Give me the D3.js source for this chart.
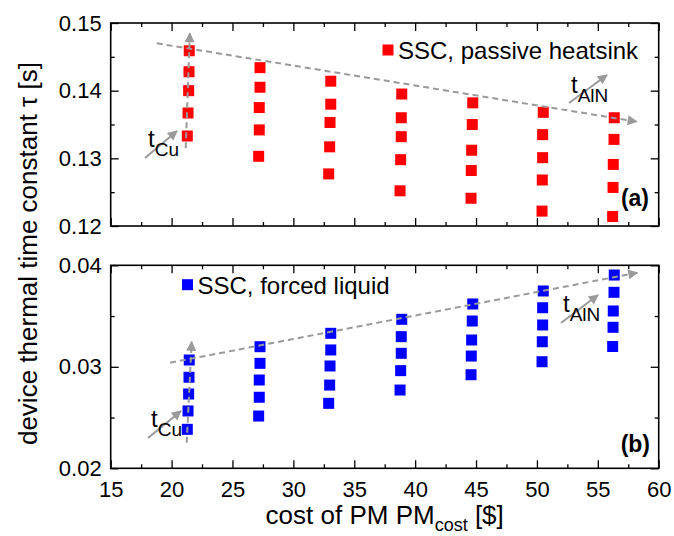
<!DOCTYPE html>
<html>
<head>
<meta charset="utf-8">
<script src="https://cdn.jsdelivr.net/npm/d3@7"></script>
<style>
  body { margin: 0; background: #fff; }
  svg { font-family: "Liberation Sans", Arial, sans-serif; }
</style>
</head>
<body>
<div id="chart"></div>
<script>
// cost of the power module for each t_Cu step (5 per AlN thickness column)
var costCols = [
    [21.45, 21.43, 21.40, 21.35, 21.29],
    [27.26, 27.26, 27.20, 27.20, 27.15],
    [33.07, 33.07, 33.01, 32.98, 32.90],
    [38.90, 38.86, 38.86, 38.81, 38.76],
    [44.73, 44.69, 44.64, 44.61, 44.59],
    [50.52, 50.47, 50.47, 50.44, 50.42],
    [56.35, 56.33, 56.27, 56.25, 56.22]
]
var tauPassive = [
    [0.1459, 0.1428, 0.1400, 0.1367, 0.1333],
    [0.1434, 0.1405, 0.1375, 0.1342, 0.1303],
    [0.1414, 0.1380, 0.1353, 0.1317, 0.1277],
    [0.1395, 0.1360, 0.1332, 0.1298, 0.1252],
    [0.1382, 0.1350, 0.1312, 0.1282, 0.1241],
    [0.1368, 0.1335, 0.1301, 0.1268, 0.1222],
    [0.1360, 0.1328, 0.1291, 0.1257, 0.1214]
]
var tauLiquid = [
    [0.03067, 0.02897, 0.02732, 0.02565, 0.02384],
    [0.03198, 0.03034, 0.02870, 0.02700, 0.02515],
    [0.03330, 0.03166, 0.03008, 0.02820, 0.02640],
    [0.03468, 0.03297, 0.03133, 0.02962, 0.02771],
    [0.03619, 0.03451, 0.03264, 0.03106, 0.02922],
    [0.03747, 0.03582, 0.03412, 0.03247, 0.03050],
    [0.03904, 0.03734, 0.03550, 0.03389, 0.03200]
]
var xTicks = [15, 20, 25, 30, 35, 40, 45, 50, 55, 60]
var yTicksTop = [0.12, 0.13, 0.14, 0.15]
var yTicksBottom = [0.02, 0.03, 0.04]

// annotation guides in data units
var trendTop = [[18.78, 0.1470], [58.19, 0.13542]]
var cuArrowTop = [[21.16, 0.1315], [21.5, 0.1485]]
var trendBottom = [[19.87, 0.03040], [58.24, 0.03927]]
var cuArrowBottom = [[21.24, 0.02252], [21.65, 0.03247]]

var width = 674, height = 536
var left = 110.7, right = 658.7
var topPanel = { y0: 23, y1: 226 }
var botPanel = { y0: 265.3, y1: 468.3 }

var svg = d3.select('#chart').append('svg')
    .attr('width', width)
    .attr('height', height)

var defs = svg.append('defs')
defs.append('marker')
    .attr('id', 'head')
    .attr('viewBox', '0 0 10 10')
    .attr('refX', 9).attr('refY', 5)
    .attr('markerWidth', 12).attr('markerHeight', 10)
    .attr('markerUnits', 'userSpaceOnUse')
    .attr('orient', 'auto')
    .append('path')
    .attr('d', 'M0,0L10,5L0,10Z')
    .attr('fill', '#9a9a9a')

var x = d3.scaleLinear().domain([15, 60]).range([left, right])
var yTop = d3.scaleLinear().domain([0.12, 0.15]).range([topPanel.y1, topPanel.y0])
var yBot = d3.scaleLinear().domain([0.02, 0.04]).range([botPanel.y1, botPanel.y0])

function halfSteps(ticks) {
    var out = []
    for (var i = 0; i < ticks.length - 1; i++) out.push((ticks[i] + ticks[i + 1]) / 2)
    return out
}

function drawPanel(y, panel, yTicks, fmt, showX) {
    var g = svg.append('g')
    var ticksStyle = function (sel) {
        sel.select('.domain').remove()
        sel.selectAll('line').attr('stroke', '#000').attr('stroke-width', 1.3)
        sel.selectAll('text').attr('fill', '#000').style('font-size', '22px')
            .style('font-family', '"Liberation Sans", Arial, sans-serif')
    }
    // left
    g.append('g').attr('transform', `translate(${left},0)`)
        .call(d3.axisLeft(y).tickValues(yTicks).tickFormat(fmt).tickSize(-8).tickPadding(9))
        .call(ticksStyle)
    g.append('g').attr('transform', `translate(${left},0)`)
        .call(d3.axisLeft(y).tickValues(halfSteps(yTicks)).tickFormat('').tickSize(-4))
        .call(ticksStyle)
    // right
    g.append('g').attr('transform', `translate(${right},0)`)
        .call(d3.axisRight(y).tickValues(yTicks).tickFormat('').tickSize(-8))
        .call(ticksStyle)
    g.append('g').attr('transform', `translate(${right},0)`)
        .call(d3.axisRight(y).tickValues(halfSteps(yTicks)).tickFormat('').tickSize(-4))
        .call(ticksStyle)
    // bottom
    g.append('g').attr('transform', `translate(0,${panel.y1})`)
        .call(d3.axisBottom(x).tickValues(xTicks).tickFormat(showX ? d3.format('d') : '').tickSize(-8).tickPadding(13))
        .call(ticksStyle)
    g.append('g').attr('transform', `translate(0,${panel.y1})`)
        .call(d3.axisBottom(x).tickValues(halfSteps(xTicks)).tickFormat('').tickSize(-4))
        .call(ticksStyle)
    // top
    g.append('g').attr('transform', `translate(0,${panel.y0})`)
        .call(d3.axisTop(x).tickValues(xTicks).tickFormat('').tickSize(-8))
        .call(ticksStyle)
    g.append('g').attr('transform', `translate(0,${panel.y0})`)
        .call(d3.axisTop(x).tickValues(halfSteps(xTicks)).tickFormat('').tickSize(-4))
        .call(ticksStyle)

    g.append('rect')
        .attr('x', left).attr('y', panel.y0)
        .attr('width', right - left).attr('height', panel.y1 - panel.y0)
        .attr('fill', 'none').attr('stroke', '#000').attr('stroke-width', 1.6)
}

drawPanel(yTop, topPanel, yTicksTop, d3.format('.2f'), false)
drawPanel(yBot, botPanel, yTicksBottom, d3.format('.2f'), true)

function guide(pts, y, dashed) {
    svg.append('line')
        .attr('x1', x(pts[0][0])).attr('y1', y(pts[0][1]))
        .attr('x2', x(pts[1][0])).attr('y2', y(pts[1][1]))
        .attr('stroke', '#9a9a9a').attr('stroke-width', 2)
        .attr('stroke-dasharray', dashed ? '6,4' : null)
        .attr('marker-end', 'url(#head)')
}

function squares(tau, y, color) {
    var pts = []
    tau.forEach(function (col, i) {
        col.forEach(function (v, j) { pts.push({ c: costCols[i][j], t: v }) })
    })
    var s = 11
    svg.append('g').selectAll('rect')
        .data(pts)
        .enter().append('rect')
        .attr('x', d => x(d.c) - s / 2)
        .attr('y', d => y(d.t) - s / 2)
        .attr('width', s).attr('height', s)
        .attr('fill', color)
}

squares(tauPassive, yTop, '#ff0000')
squares(tauLiquid, yBot, '#0000ff')

guide(trendTop, yTop, true)
guide(cuArrowTop, yTop, true)
guide(trendBottom, yBot, true)
guide(cuArrowBottom, yBot, true)

// labelled thickness arrows (screen-space annotations)
function thickLabel(tx, ty, sub, ax0, ay0, ax1, ay1) {
    svg.append('line')
        .attr('x1', ax0).attr('y1', ay0).attr('x2', ax1).attr('y2', ay1)
        .attr('stroke', '#9a9a9a').attr('stroke-width', 2)
        .attr('marker-end', 'url(#head)')
    var t = svg.append('text').attr('x', tx).attr('y', ty)
        .style('font-size', '24px').attr('fill', '#000')
    t.append('tspan').text('t')
    t.append('tspan').attr('dy', 9).style('font-size', '19px').text(sub)
}
thickLabel(148, 147, 'Cu', 145, 158, 177, 131)
thickLabel(571, 93, 'AlN', 569, 103, 607, 75)
thickLabel(151, 427, 'Cu', 148, 438, 181, 411)
thickLabel(563, 312, 'AlN', 561, 323, 598, 295)

// legends
function legend(cx, cy, color, label) {
    svg.append('rect').attr('x', cx - 5.5).attr('y', cy - 5.5)
        .attr('width', 11).attr('height', 11).attr('fill', color)
    svg.append('text').attr('x', cx + 10).attr('y', cy + 9)
        .style('font-size', '24px').attr('fill', '#000').text(label)
}
legend(388, 50, '#ff0000', 'SSC, passive heatsink')
legend(187.5, 284.7, '#0000ff', 'SSC, forced liquid')

svg.append('text').attr('x', 649).attr('y', 206).attr('text-anchor', 'end')
    .style('font-size', '23px').style('font-weight', 'bold').text('(a)')
svg.append('text').attr('x', 650).attr('y', 452).attr('text-anchor', 'end')
    .style('font-size', '23px').style('font-weight', 'bold').text('(b)')

// axis titles
svg.append('text')
    .attr('transform', 'translate(37,253.5) rotate(-90)')
    .attr('text-anchor', 'middle')
    .style('font-size', '26px')
    .text('device thermal time constant \u03c4 [s]')

var xl = svg.append('text')
    .attr('x', (left + right) / 2).attr('y', 524)
    .attr('text-anchor', 'middle')
    .style('font-size', '26px')
xl.append('tspan').text('cost of PM PM')
xl.append('tspan').attr('dy', 7).style('font-size', '18px').text('cost')
xl.append('tspan').attr('dy', -7).text(' [$]')
</script>
</body>
</html>
